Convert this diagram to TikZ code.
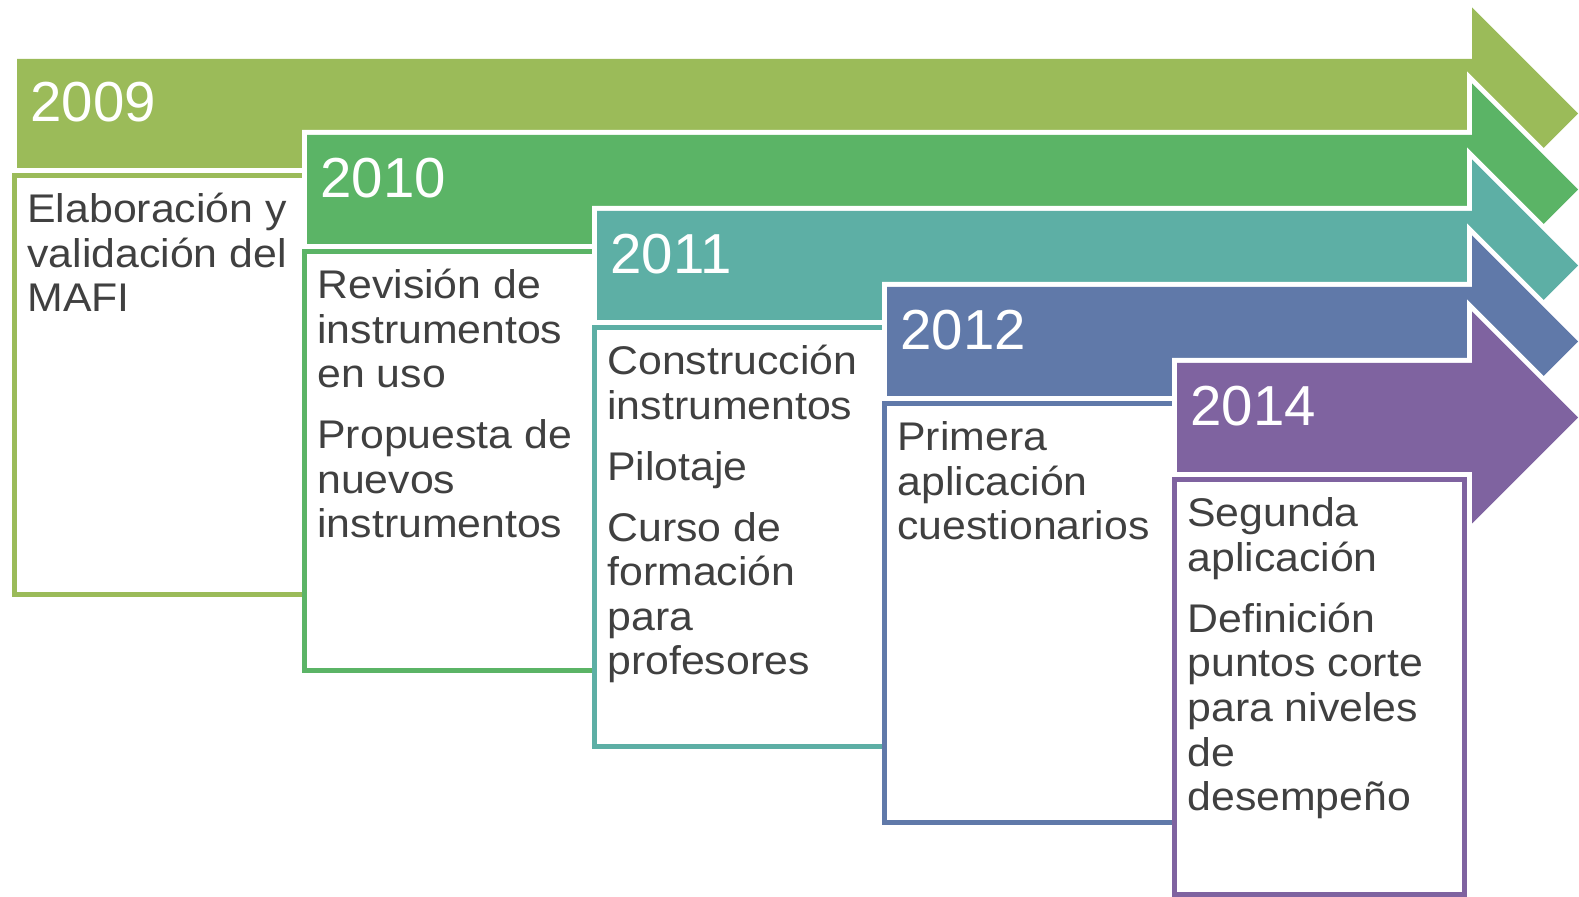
\documentclass[tikz,border=0pt]{standalone}
\usepackage{fontspec}
\setmainfont{Liberation Sans}
\newfontfamily\bodyf[FakeStretch=1.07]{Liberation Sans}
\definecolor{cA}{HTML}{9BBB59}
\definecolor{cB}{HTML}{5BB466}
\definecolor{cC}{HTML}{5DAFA5}
\definecolor{cD}{HTML}{6079A9}
\definecolor{cE}{HTML}{7F63A0}
\definecolor{txt}{HTML}{404040}
\tikzset{
  yearlbl/.style={anchor=base west, inner sep=0pt, text=white, font=\fontsize{28.2}{33}\selectfont},
  bodylbl/.style={anchor=base west, inner sep=0pt, text=txt},
  arrowout/.style={draw=white, line width=5pt, line join=miter},
  boxframe/.style={line width=2.5pt, fill=white},
}
\newcommand{\boxtext}[1]{\begin{minipage}[t]{140pt}\bodyf\fontsize{20}{22.25}\selectfont\raggedright\setlength{\parskip}{8.25pt}#1\end{minipage}}
\begin{document}
\begin{tikzpicture}[x=0.5pt,y=-0.5pt]
\useasboundingbox (0,0) rectangle (1579,897);
\foreach \i/\c in {0/cA,1/cB,2/cC,3/cD,4/cE}{
  \pgfmathsetmacro{\xa}{17+290*\i}
  \pgfmathsetmacro{\ta}{59+76*\i}
  \pgfmathsetmacro{\ba}{\ta+109}
  \pgfmathsetmacro{\ca}{\ta+54.5}
  \pgfmathsetmacro{\ht}{\ca-106}
  \pgfmathsetmacro{\hb}{\ca+106}
  \path[arrowout] (\xa,\ta) -- (1472,\ta) -- (1472,\ht) -- (1578,\ca) -- (1472,\hb) -- (1472,\ba) -- (\xa,\ba) -- cycle;
  \fill[\c] (\xa,\ta) -- (1472,\ta) -- (1472,\ht) -- (1578,\ca) -- (1472,\hb) -- (1472,\ba) -- (\xa,\ba) -- cycle;
  \pgfmathsetmacro{\bl}{14.5+290*\i}
  \pgfmathsetmacro{\bt}{175.5+76*\i}
  \pgfmathsetmacro{\br}{304.5+290*\i}
  \pgfmathsetmacro{\bbot}{\i==4 ? 894.5 : 594.5+76*\i}
  \draw[boxframe, draw=\c] (\bl,\bt) rectangle (\br,\bbot);
}
\node[yearlbl] (y1) at (30,122) {2009};
\node[yearlbl] (y2) at (320,198) {2010};
\node[yearlbl] (y3) at (610,274) {2011};
\node[yearlbl] (y4) at (900,350) {2012};
\node[yearlbl] (y5) at (1190,426) {2014};
\node[bodylbl] (t1) at (27,223) {\boxtext{Elaboración y\\validación del\\MAFI}};
\node[bodylbl] (t2) at (317,299) {\boxtext{Revisión de\\instrumentos\\en uso\par Propuesta de\\nuevos\\instrumentos}};
\node[bodylbl] (t3) at (607,375) {\boxtext{Construcción\\instrumentos\par Pilotaje\par Curso de\\formación\\para\\profesores}};
\node[bodylbl] (t4) at (897,451) {\boxtext{Primera\\aplicación\\cuestionarios}};
\node[bodylbl] (t5) at (1187,527) {\boxtext{Segunda\\aplicación\par Definición\\puntos corte\\para niveles\\de\\desempeño}};
\end{tikzpicture}
\end{document}
